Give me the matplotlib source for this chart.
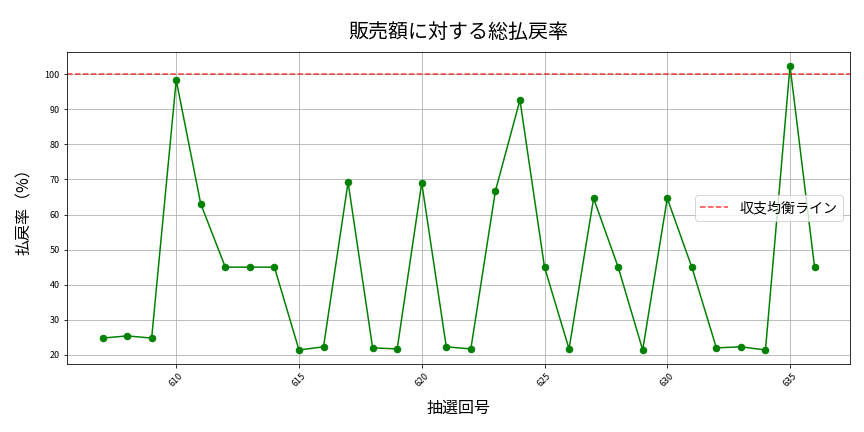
import matplotlib
matplotlib.use('Agg')
import matplotlib.pyplot as plt

plt.rcParams['font.family'] = ['Noto Sans CJK JP', 'DejaVu Sans']

draws = list(range(607, 637))
payout_rate = [24.8, 25.4, 24.8, 98.3, 63.0, 45.0, 45.0, 45.0, 21.4, 22.3,
               69.2, 22.0, 21.7, 69.0, 22.3, 21.7, 66.7, 92.6, 45.0, 21.7,
               64.6, 45.0, 21.4, 64.6, 45.0, 22.0, 22.3, 21.4, 102.3, 45.0]
breakeven = 100

fig, ax = plt.subplots(figsize=(12, 6), dpi=72)
fig.subplots_adjust(left=0.0775, right=0.984, top=0.88, bottom=0.157)

ax.plot(draws, payout_rate, color='green', marker='o', markersize=6.5, linewidth=1.5)
ax.axhline(breakeven, color='red', alpha=0.75, linestyle='--', linewidth=1.5, label='収支均衡ライン')

ax.set_title('販売額に対する総払戻率', fontsize=20, pad=14)
ax.set_xlabel('抽選回号', fontsize=16, labelpad=12)
ax.set_ylabel('払戻率（%）', fontsize=16, labelpad=12)
ax.tick_params(axis='x', rotation=45, labelsize=9)
ax.tick_params(axis='y', labelsize=9)
ax.grid(True)
ax.legend(loc='center right', fontsize=14)

fig.savefig('out.png', dpi=72)
